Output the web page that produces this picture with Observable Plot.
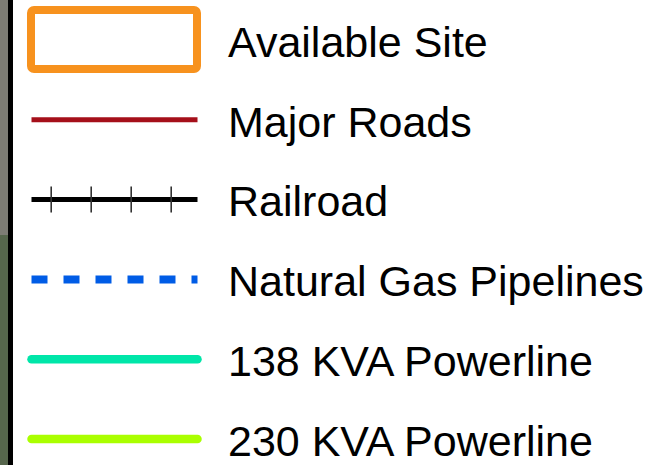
<!DOCTYPE html>
<html>
<head>
<meta charset="utf-8">
<script src="https://cdn.jsdelivr.net/npm/d3@7"></script>
<script src="https://cdn.jsdelivr.net/npm/@observablehq/plot@0.6"></script>
<style>
  html, body { margin: 0; padding: 0; background: #fff; }
  svg { display: block; }
</style>
</head>
<body>
<div id="chart"></div>
<script>
// Legend entries
const labels = ["Available Site", "Major Roads", "Railroad", "Natural Gas Pipelines", "138 KVA Powerline", "230 KVA Powerline"];
const kinds = ["box", "road", "rail", "gas", "power138", "power230"];
const railTicks = [0, 1, 2, 3];
// Imagery strip at the left edge
const stripParts = ["gray", "green"];

const W = 654, H = 465;
const rowY = i => 39.5 + 79.8 * i;
const sx1 = 31, sx2 = 197;

const rows = labels.map((label, i) => ({label, kind: kinds[i], y: rowY(i)}));
const lineRow = k => rows.filter(r => r.kind === k).flatMap(r => [{x: sx1, y: r.y}, {x: sx2, y: r.y}]);

const stripColor = {gray: "#7d7c74", green: "#56664c"};
const strip = stripParts.map((p, i) => ({part: p, y1: i === 0 ? 0 : 235, y2: i === 0 ? 235 : H}));

const railRow = rows.find(r => r.kind === "rail");
const ticks = railTicks.map(t => ({x: 50.7 + 40 * t, y1: railRow.y - 12.5, y2: railRow.y + 13.5}));
const boxRow = rows.find(r => r.kind === "box");

const plot = Plot.plot({
  width: W,
  height: H,
  margin: 0,
  style: {background: "#fff", overflow: "visible"},
  x: {domain: [0, W], range: [0, W], axis: null},
  y: {domain: [0, H], range: [0, H], axis: null},
  marks: [
    Plot.rect(strip, {x1: 0, x2: 8, y1: "y1", y2: "y2", fill: d => stripColor[d.part]}),
    Plot.rect([0], {x1: 8, x2: 13, y1: 0, y2: H, fill: "#000"}),
    Plot.rect([boxRow], {x1: sx1, x2: sx2, y1: d => d.y - 29.5, y2: d => d.y + 29.5,
      fill: "#fff", stroke: "#F7921E", strokeWidth: 8, rx: 3}),
    Plot.line(lineRow("road"), {x: "x", y: "y", stroke: "#A50F1A", strokeWidth: 5, strokeLinecap: "butt"}),
    Plot.line(lineRow("rail"), {x: "x", y: "y", stroke: "#000", strokeWidth: 5, strokeLinecap: "butt"}),
    Plot.ruleX(ticks, {x: "x", y1: "y1", y2: "y2", stroke: "#333", strokeWidth: 1.6}),
    Plot.line(lineRow("gas"), {x: "x", y: "y", stroke: "#005CE6", strokeWidth: 8, strokeLinecap: "butt", strokeDasharray: "16,16"}),
    Plot.line(lineRow("power138"), {x: "x", y: "y", stroke: "#00E6A9", strokeWidth: 8.5, strokeLinecap: "round"}),
    Plot.line(lineRow("power230"), {x: "x", y: "y", stroke: "#AAFF00", strokeWidth: 8.5, strokeLinecap: "round"}),
    Plot.text(rows, {x: 227.5, y: "y", text: "label", textAnchor: "start", dy: 3,
      fontSize: 43, fontFamily: "Liberation Sans, Arial, sans-serif", fill: "#000"})
  ]
});
document.getElementById("chart").appendChild(plot);
</script>
</body>
</html>
